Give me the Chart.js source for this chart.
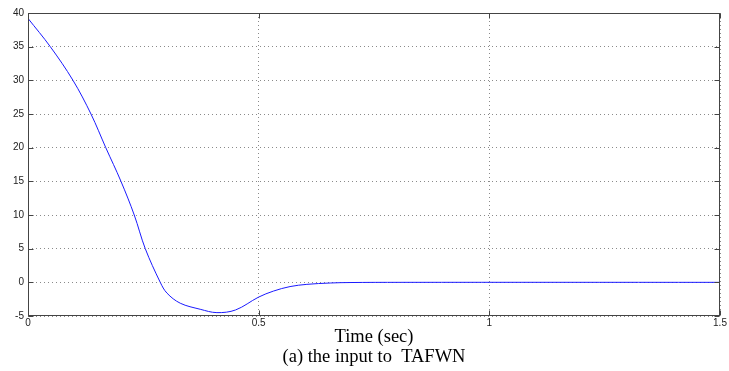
<!DOCTYPE html>
<html>
<head>
<meta charset="utf-8">
<script src="https://cdn.jsdelivr.net/npm/chart.js@4/dist/chart.umd.min.js"></script>
<style>
  html, body { margin: 0; padding: 0; background: #ffffff; }
  #wrap { width: 729px; height: 371px; position: relative; }
</style>
</head>
<body>
<div id="wrap"><canvas id="c" width="729" height="371"></canvas></div>
<script>
// Time samples (sec)
const timeValues = [0, 0.0483, 0.0975, 0.1365, 0.1686, 0.2015, 0.2303, 0.2542, 0.2867,
  0.3012, 0.33, 0.3733, 0.4095, 0.45, 0.4997, 0.532, 0.568, 0.6045, 0.655, 0.698, 0.807, 1.5];
// Input to TAFWN at those times
const inputValues = [39.2, 35, 30, 25, 20, 15, 10, 5, 0,
  -1.6, -3.1, -4.0, -4.5, -4.1, -2.2, -1.3, -0.63, -0.3, -0.1, -0.03, 0, 0];
const xTicks = [0, 0.5, 1, 1.5];
const yTicks = [-5, 0, 5, 10, 15, 20, 25, 30, 35, 40];
const xTitleLines = ["Time (sec)", "(a) the input to  TAFWN"];

const points = timeValues.map((t, i) => ({ x: t, y: inputValues[i] }));

const framePlugin = {
  id: 'frame',
  afterDraw(chart) {
    const { ctx, chartArea: a, scales } = chart;
    ctx.save();
    ctx.strokeStyle = '#444';
    ctx.lineWidth = 1;
    const L = Math.round(a.left) + 0.5, R = Math.round(a.right) - 0.5;
    const T = Math.round(a.top) + 0.5, B = Math.round(a.bottom) - 0.5;
    ctx.strokeRect(L, T, R - L, B - T);
    const tl = 5;
    ctx.beginPath();
    yTicks.forEach(v => {
      const y = Math.round(scales.y.getPixelForValue(v)) + 0.5;
      ctx.moveTo(L, y); ctx.lineTo(L + tl, y);
      ctx.moveTo(R, y); ctx.lineTo(R - tl, y);
    });
    xTicks.forEach(v => {
      const x = Math.round(scales.x.getPixelForValue(v)) + 0.5;
      ctx.moveTo(x, B); ctx.lineTo(x, B - tl);
      ctx.moveTo(x, T); ctx.lineTo(x, T + tl);
    });
    ctx.stroke();
    ctx.restore();
  }
};

new Chart(document.getElementById('c'), {
  type: 'scatter',
  data: {
    datasets: [{
      data: points,
      showLine: true,
      borderColor: '#1a1aff',
      borderWidth: 1,
      pointRadius: 0,
      tension: 0.35,
      fill: false
    }]
  },
  options: {
    responsive: false,
    animation: false,
    devicePixelRatio: 1,
    layout: { padding: { left: 0, right: 9, top: 13, bottom: 0 } },
    plugins: { legend: { display: false }, tooltip: { enabled: false } },
    scales: {
      x: {
        type: 'linear',
        min: 0, max: 1.5,
        afterBuildTicks(scale) { scale.ticks = xTicks.map(v => ({ value: v })); },
        afterFit(scale) { scale.height = 55; },
        ticks: {
          font: { family: 'Liberation Sans, Arial, sans-serif', size: 10 },
          color: '#222',
          padding: 1,
          maxRotation: 0,
          callback: v => String(v)
        },
        grid: { color: '#8a8a8a', lineWidth: 1, drawTicks: false },
        border: { display: false, dash: [1, 3] },
        title: {
          display: true,
          text: xTitleLines,
          color: '#000',
          font: { family: 'Liberation Serif, Times New Roman, serif', size: 18.5, lineHeight: 1.08 },
          padding: { top: 0, bottom: 4 }
        }
      },
      y: {
        type: 'linear',
        min: -5, max: 40,
        afterBuildTicks(scale) { scale.ticks = yTicks.map(v => ({ value: v })); },
        afterFit(scale) { scale.width = 28; },
        ticks: {
          font: { family: 'Liberation Sans, Arial, sans-serif', size: 10 },
          color: '#222',
          padding: 4,
          callback: v => String(v)
        },
        grid: { color: '#8a8a8a', lineWidth: 1, drawTicks: false },
        border: { display: false, dash: [1, 3] }
      }
    }
  },
  plugins: [framePlugin]
});
</script>
</body>
</html>
